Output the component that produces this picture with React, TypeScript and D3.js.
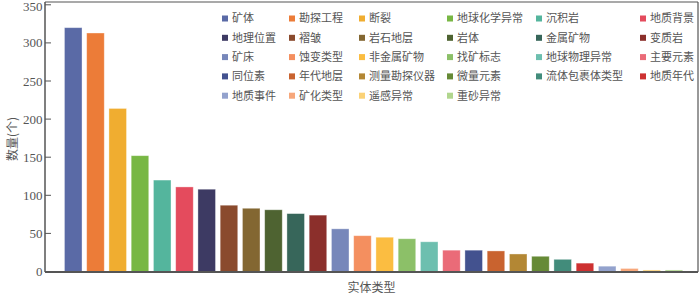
import React from "react";
import * as d3 from "d3";

const categories = [
  "矿体", "勘探工程", "断裂", "地球化学异常", "沉积岩", "地质背景",
  "地理位置", "褶皱", "岩石地层", "岩体", "金属矿物", "变质岩",
  "矿床", "蚀变类型", "非金属矿物", "找矿标志", "地球物理异常", "主要元素",
  "同位素", "年代地层", "测量勘探仪器", "微量元素", "流体包裹体类型", "地质年代",
  "地质事件", "矿化类型", "遥感异常", "重砂异常",
];

const counts = [
  320, 313, 214, 152, 120, 111,
  108, 87, 83, 81, 76, 74,
  56, 47, 45, 43, 39, 28,
  28, 27, 23, 20, 16, 11,
  7, 4, 2, 2,
];

const colors = [
  "#5a6aa6", "#ec7c38", "#f0ad30", "#78b744", "#54b59d", "#e44b5d",
  "#3d3a63", "#8a4a2d", "#836732", "#4e6331", "#37665a", "#8b2f2b",
  "#7787ba", "#f48f5f", "#fbbd41", "#8cc068", "#6dbfaf", "#ea6b78",
  "#43528f", "#c9632f", "#b38734", "#668a36", "#428c7b", "#cd3131",
  "#93a2cd", "#f7a77a", "#fbd277", "#b1d68e",
];

const yTicks = [0, 50, 100, 150, 200, 250, 300, 350];

const W = 700;
const H = 294;
const left = 45;
const right = 698;
const top = 2;
const bottom = 272;

const legendCols = [225, 292, 362, 450, 539, 643];
const legendRow0 = 18.5;
const legendRowStep = 19.3;

const cjk = "'Noto Sans CJK SC', sans-serif";
const serif = "'Liberation Serif', 'DejaVu Serif', serif";

export default function App() {
  const x = d3
    .scaleBand<string>()
    .domain(categories)
    .range([left, right])
    .paddingInner(0.21)
    .paddingOuter(0.78)
    .align(0.56);
  const y = d3.scaleLinear().domain([0, 350]).range([271.5, 4.8]);

  return (
    <svg
      width={W}
      height={H}
      style={{ position: "absolute", left: 0, top: 0, background: "#fff" }}
    >
      {/* bars */}
      {categories.map((c, i) => (
        <rect
          key={c}
          x={x(c)}
          y={y(counts[i])}
          width={x.bandwidth()}
          height={Math.max(0, y(0) - y(counts[i]))}
          fill={colors[i]}
          stroke="#ffffff"
          strokeOpacity={0.45}
          strokeWidth={0.8}
        />
      ))}

      {/* frame */}
      <line x1={left} x2={right} y1={top} y2={top} stroke="#555" strokeWidth={1.2} />
      <line x1={right} x2={right} y1={top} y2={bottom} stroke="#555" strokeWidth={1.2} />
      <line x1={left} x2={left} y1={top} y2={bottom} stroke="#555" strokeWidth={1.5} />
      <line x1={left} x2={right} y1={bottom} y2={bottom} stroke="#555" strokeWidth={1.8} />

      {/* y ticks */}
      {yTicks.map((t) => (
        <g key={t}>
          <line x1={left} x2={left + 6} y1={y(t)} y2={y(t)} stroke="#555" strokeWidth={1} />
          <text
            x={left - 2.5}
            y={Math.max(y(t), 6.5)}
            dy="0.35em"
            textAnchor="end"
            fontFamily={serif}
            fontSize={13}
            fill="#555"
          >
            {t}
          </text>
        </g>
      ))}

      {/* axis titles */}
      <text
        transform={`translate(13,${(top + bottom) / 2 + 2}) rotate(-90)`}
        textAnchor="middle"
        dy="0.35em"
        fontFamily={cjk}
        fontSize={12}
        fill="#555"
      >
        数量(个)
      </text>
      <text
        x={(left + right) / 2}
        y={288}
        textAnchor="middle"
        dy="0.35em"
        fontFamily={cjk}
        fontSize={12}
        fill="#555"
      >
        实体类型
      </text>

      {/* legend */}
      {categories.map((c, i) => {
        const col = i % 6;
        const row = Math.floor(i / 6);
        const lx = legendCols[col];
        const ly = legendRow0 + row * legendRowStep;
        return (
          <g key={"lg" + c}>
            <rect x={lx - 3} y={ly - 3} width={6} height={6} fill={colors[i]} />
            <text
              x={lx + 7}
              y={ly}
              dy="0.35em"
              fontFamily={cjk}
              fontSize={11}
              fill="#555"
            >
              {c}
            </text>
          </g>
        );
      })}
    </svg>
  );
}
